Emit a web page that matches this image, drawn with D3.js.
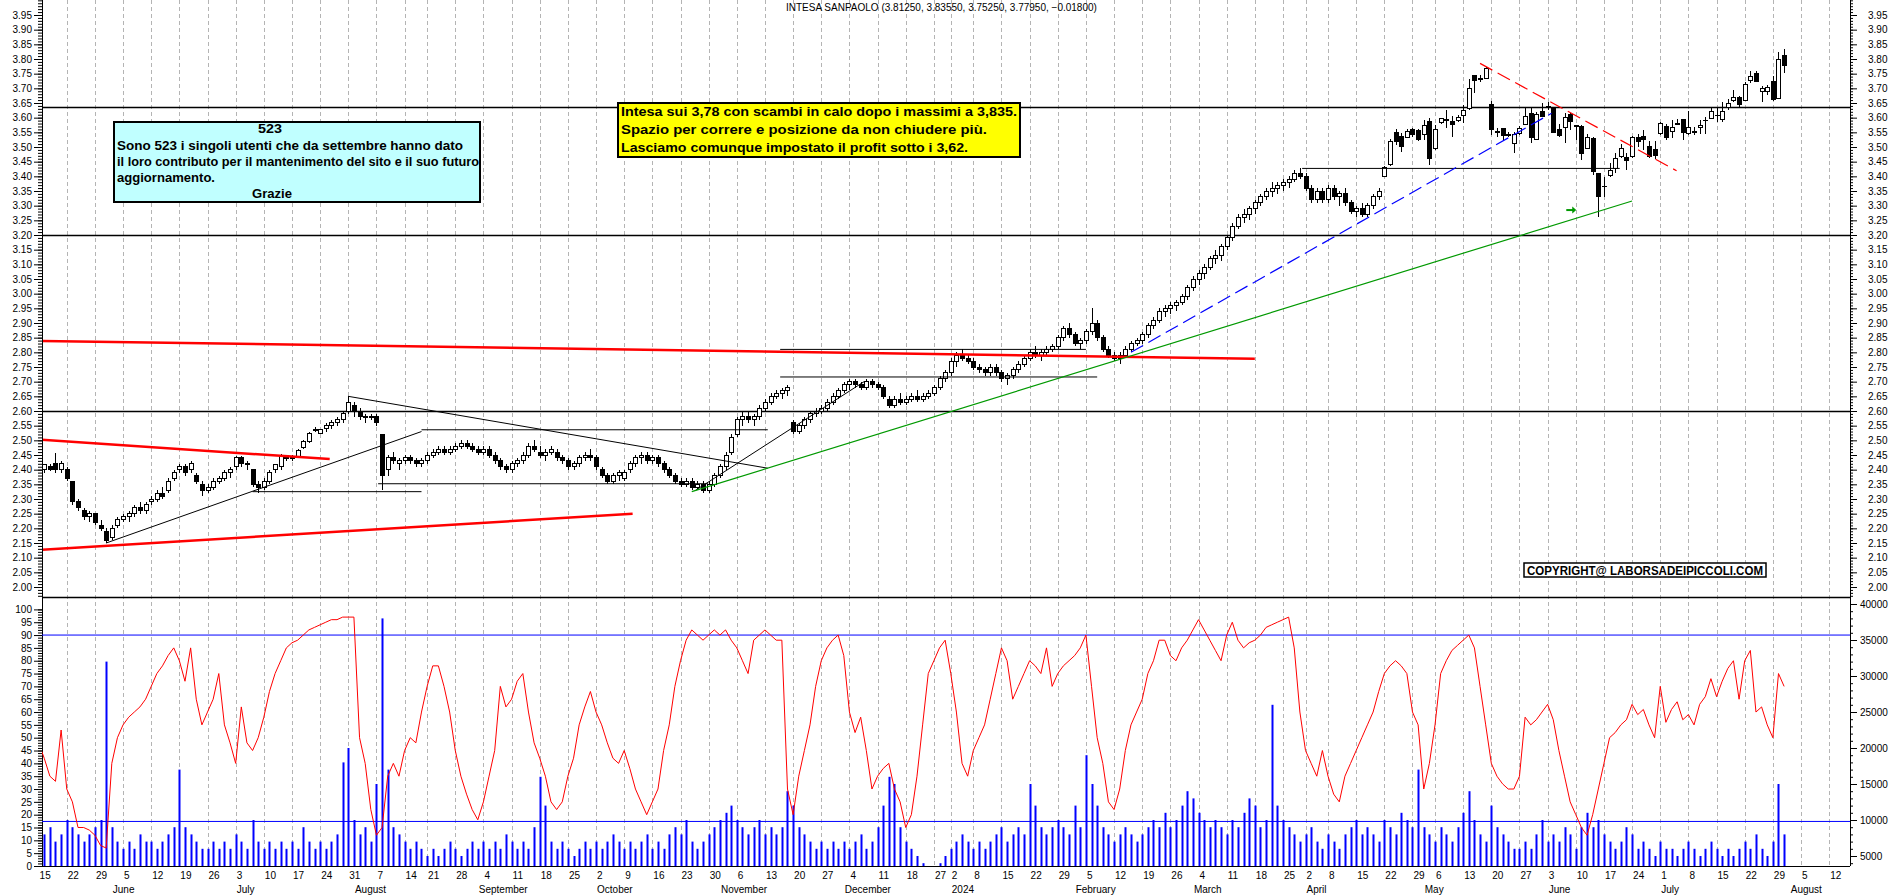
<!DOCTYPE html>
<html><head><meta charset="utf-8">
<script src="https://cdn.jsdelivr.net/npm/d3@7"></script>
<style>
html,body{margin:0;padding:0;background:#fff;overflow:hidden}
svg{display:block;font-family:"Liberation Sans",Arial,sans-serif}
</style></head><body>
<svg id="chart" width="1890" height="895"></svg>
<script>
// trading calendar (Borsa Italiana closures)
const startDay = "2023-05-15";
const holidays = ["2023-08-15","2023-12-25","2023-12-26","2024-01-01","2024-03-29","2024-04-01","2024-05-01"];
const monthNames = ["January","February","March","April","May","June","July","August","September","October","November","December"];

// daily candles [open, high, low, close], one per trading day from startDay
const ohlc = [
[2.41,2.43,2.39,2.40],[2.40,2.42,2.39,2.416],[2.41,2.42,2.395,2.40],[2.42,2.456,2.39,2.40],[2.40,2.43,2.39,2.42],
[2.40,2.41,2.36,2.37],[2.36,2.36,2.28,2.29],[2.29,2.30,2.26,2.27],[2.26,2.27,2.23,2.24],[2.24,2.26,2.22,2.25],
[2.25,2.25,2.21,2.22],[2.21,2.23,2.19,2.20],[2.19,2.20,2.15,2.16],[2.17,2.21,2.16,2.20],[2.21,2.24,2.20,2.23],
[2.23,2.25,2.22,2.24],[2.24,2.26,2.22,2.25],[2.25,2.28,2.24,2.27],[2.27,2.29,2.25,2.26],[2.26,2.29,2.25,2.28],
[2.29,2.31,2.28,2.30],[2.30,2.33,2.29,2.32],[2.32,2.34,2.30,2.31],[2.33,2.37,2.32,2.36],[2.37,2.40,2.36,2.39],
[2.40,2.42,2.39,2.41],[2.41,2.42,2.38,2.39],[2.40,2.43,2.39,2.42],[2.38,2.39,2.35,2.36],[2.35,2.36,2.31,2.33],
[2.33,2.35,2.32,2.34],[2.34,2.37,2.33,2.36],[2.36,2.38,2.35,2.37],[2.37,2.40,2.36,2.39],[2.39,2.41,2.37,2.40],
[2.41,2.445,2.40,2.44],[2.44,2.445,2.41,2.42],[2.42,2.43,2.40,2.416],[2.40,2.40,2.34,2.35],[2.35,2.36,2.32,2.34],
[2.34,2.37,2.33,2.36],[2.36,2.40,2.35,2.39],[2.40,2.42,2.39,2.417],[2.41,2.455,2.40,2.45],[2.44,2.45,2.43,2.44],
[2.44,2.45,2.43,2.441],[2.444,2.47,2.44,2.467],[2.476,2.50,2.47,2.495],[2.495,2.53,2.49,2.524],[2.535,2.545,2.53,2.537],
[2.524,2.54,2.52,2.537],[2.54,2.56,2.53,2.55],[2.55,2.57,2.54,2.56],[2.56,2.58,2.55,2.57],[2.57,2.60,2.56,2.59],
[2.60,2.65,2.59,2.63],[2.62,2.63,2.58,2.60],[2.60,2.61,2.57,2.58],[2.58,2.59,2.56,2.58],[2.58,2.59,2.57,2.58],
[2.58,2.59,2.55,2.56],[2.52,2.52,2.33,2.38],[2.40,2.45,2.38,2.44],[2.44,2.46,2.42,2.43],[2.42,2.44,2.40,2.43],
[2.43,2.45,2.42,2.44],[2.44,2.45,2.42,2.43],[2.43,2.44,2.41,2.42],[2.42,2.44,2.41,2.43],
[2.43,2.46,2.42,2.45],[2.45,2.47,2.44,2.46],[2.46,2.48,2.45,2.47],[2.47,2.48,2.45,2.46],[2.46,2.48,2.45,2.47],
[2.47,2.49,2.46,2.48],[2.48,2.50,2.47,2.49],[2.49,2.50,2.47,2.48],[2.48,2.49,2.46,2.47],[2.47,2.48,2.45,2.46],
[2.46,2.48,2.45,2.47],[2.47,2.48,2.44,2.45],[2.45,2.46,2.42,2.43],[2.43,2.44,2.40,2.41],[2.41,2.42,2.39,2.40],
[2.40,2.43,2.39,2.42],[2.42,2.44,2.41,2.43],[2.43,2.46,2.42,2.45],[2.45,2.49,2.44,2.48],[2.48,2.50,2.46,2.47],
[2.46,2.48,2.44,2.45],[2.45,2.47,2.43,2.46],[2.46,2.48,2.45,2.47],[2.46,2.47,2.43,2.44],[2.44,2.45,2.42,2.43],
[2.43,2.44,2.40,2.41],[2.41,2.43,2.40,2.42],[2.42,2.45,2.41,2.44],[2.44,2.46,2.43,2.45],[2.45,2.47,2.43,2.44],
[2.44,2.45,2.40,2.41],[2.40,2.41,2.37,2.38],[2.38,2.39,2.35,2.36],[2.36,2.39,2.35,2.38],[2.38,2.40,2.36,2.39],
[2.37,2.40,2.36,2.39],[2.40,2.43,2.39,2.42],[2.42,2.45,2.41,2.44],[2.44,2.46,2.42,2.45],[2.45,2.46,2.42,2.43],
[2.43,2.45,2.42,2.44],[2.44,2.45,2.41,2.42],[2.42,2.43,2.39,2.40],[2.40,2.41,2.37,2.38],[2.38,2.39,2.35,2.36],
[2.36,2.37,2.34,2.35],[2.35,2.37,2.34,2.36],[2.36,2.37,2.33,2.34],[2.34,2.36,2.33,2.35],[2.35,2.36,2.32,2.33],
[2.33,2.36,2.32,2.35],[2.35,2.39,2.34,2.38],[2.38,2.42,2.37,2.41],[2.41,2.46,2.40,2.45],[2.46,2.52,2.45,2.51],
[2.52,2.58,2.51,2.57],[2.57,2.60,2.55,2.58],[2.58,2.60,2.56,2.57],[2.57,2.59,2.55,2.58],[2.58,2.62,2.57,2.61],
[2.61,2.64,2.60,2.63],[2.63,2.66,2.62,2.65],[2.65,2.67,2.64,2.66],[2.66,2.68,2.64,2.67],[2.67,2.69,2.65,2.68],
[2.56,2.57,2.52,2.53],[2.53,2.56,2.52,2.55],[2.55,2.58,2.54,2.57],[2.57,2.60,2.56,2.59],[2.59,2.61,2.58,2.60],
[2.60,2.62,2.59,2.61],[2.61,2.64,2.60,2.63],[2.63,2.66,2.62,2.65],[2.65,2.68,2.64,2.67],[2.67,2.70,2.66,2.69],
[2.69,2.71,2.67,2.70],[2.70,2.71,2.68,2.69],[2.69,2.70,2.67,2.68],[2.68,2.71,2.67,2.70],[2.70,2.71,2.68,2.69],
[2.69,2.70,2.67,2.68],[2.68,2.69,2.64,2.65],[2.64,2.65,2.61,2.62],[2.62,2.65,2.61,2.64],[2.64,2.66,2.62,2.63],
[2.63,2.65,2.62,2.64],[2.64,2.66,2.63,2.65],[2.65,2.67,2.63,2.64],[2.64,2.66,2.63,2.65],[2.65,2.67,2.64,2.66],
[2.66,2.69,2.65,2.68],[2.68,2.72,2.67,2.71],[2.71,2.74,2.70,2.73],
[2.73,2.78,2.72,2.77],[2.77,2.80,2.75,2.79],[2.79,2.81,2.77,2.78],[2.78,2.79,2.76,2.77],
[2.77,2.78,2.74,2.75],[2.75,2.76,2.73,2.74],[2.74,2.75,2.72,2.73],[2.73,2.76,2.72,2.75],[2.75,2.76,2.72,2.73],
[2.73,2.74,2.70,2.71],[2.71,2.73,2.69,2.72],[2.72,2.75,2.71,2.74],[2.74,2.77,2.73,2.76],[2.76,2.79,2.75,2.78],
[2.78,2.81,2.77,2.80],[2.80,2.82,2.78,2.79],[2.79,2.81,2.77,2.80],[2.80,2.82,2.79,2.81],[2.81,2.83,2.80,2.82],
[2.82,2.86,2.81,2.85],[2.85,2.89,2.84,2.88],[2.88,2.90,2.85,2.86],[2.86,2.87,2.82,2.83],[2.83,2.85,2.81,2.84],
[2.84,2.88,2.83,2.87],[2.87,2.95,2.86,2.90],[2.90,2.91,2.84,2.85],[2.85,2.86,2.80,2.81],[2.81,2.82,2.78,2.79],
[2.79,2.80,2.77,2.78],[2.78,2.80,2.76,2.79],[2.79,2.82,2.78,2.81],[2.81,2.84,2.80,2.83],[2.83,2.85,2.82,2.84],
[2.84,2.87,2.83,2.86],[2.86,2.90,2.85,2.89],[2.89,2.92,2.88,2.91],[2.91,2.95,2.90,2.94],[2.94,2.96,2.92,2.95],
[2.95,2.97,2.93,2.96],[2.96,2.98,2.94,2.97],[2.97,3.00,2.96,2.99],[2.99,3.03,2.98,3.02],[3.02,3.06,3.01,3.05],
[3.05,3.08,3.03,3.07],[3.07,3.10,3.05,3.09],[3.09,3.13,3.08,3.12],[3.12,3.15,3.10,3.13],[3.13,3.17,3.11,3.16],
[3.16,3.20,3.15,3.19],[3.19,3.24,3.18,3.23],[3.23,3.27,3.22,3.26],[3.26,3.29,3.24,3.27],[3.27,3.30,3.25,3.29],
[3.29,3.32,3.27,3.31],[3.31,3.34,3.30,3.33],[3.33,3.36,3.32,3.35],[3.35,3.38,3.33,3.36],[3.36,3.38,3.34,3.37],
[3.37,3.39,3.35,3.38],[3.38,3.40,3.36,3.39],[3.39,3.42,3.38,3.41],[3.41,3.43,3.39,3.40],
[3.40,3.41,3.35,3.36],[3.36,3.37,3.31,3.32],[3.32,3.36,3.31,3.35],[3.35,3.36,3.31,3.32],
[3.32,3.37,3.31,3.36],[3.36,3.37,3.32,3.33],[3.33,3.35,3.30,3.34],[3.34,3.36,3.30,3.31],[3.31,3.32,3.27,3.28],
[3.28,3.30,3.26,3.29],[3.29,3.31,3.26,3.27],[3.27,3.31,3.26,3.30],[3.30,3.34,3.29,3.33],[3.33,3.36,3.32,3.35],
[3.401,3.436,3.399,3.431],[3.439,3.527,3.436,3.518],[3.550,3.560,3.506,3.518],[3.535,3.547,3.482,3.501],[3.533,3.560,3.533,3.552],
[3.560,3.564,3.535,3.541],[3.555,3.560,3.520,3.526],[3.544,3.592,3.524,3.574],[3.586,3.598,3.439,3.461],
[3.495,3.575,3.490,3.561],[3.583,3.600,3.580,3.598],[3.592,3.626,3.564,3.594],[3.587,3.606,3.535,3.578],[3.590,3.610,3.585,3.601],
[3.606,3.643,3.581,3.626],[3.632,3.731,3.626,3.700],[3.745,3.745,3.685,3.726],[3.734,3.745,3.723,3.733],[3.734,3.774,3.734,3.768],
[3.645,3.658,3.541,3.558],[3.552,3.564,3.535,3.552],[3.564,3.566,3.524,3.539],[3.543,3.550,3.535,3.543],[3.512,3.550,3.481,3.541],
[3.547,3.570,3.540,3.564],[3.578,3.635,3.575,3.603],[3.615,3.637,3.512,3.533],[3.526,3.620,3.526,3.612],[3.620,3.649,3.603,3.605],
[3.637,3.652,3.626,3.637],[3.635,3.637,3.547,3.549],[3.560,3.578,3.535,3.540],[3.567,3.615,3.512,3.601],[3.611,3.615,3.558,3.586],
[3.575,3.575,3.524,3.569],[3.571,3.575,3.455,3.478],[3.495,3.546,3.492,3.532],[3.529,3.535,3.405,3.416],[3.408,3.410,3.262,3.331],
[3.367,3.399,3.331,3.367],[3.404,3.446,3.399,3.421],[3.427,3.478,3.410,3.461],[3.467,3.510,3.461,3.495],[3.465,3.478,3.420,3.454],
[3.467,3.537,3.461,3.532],[3.532,3.546,3.501,3.518],[3.537,3.558,3.490,3.524],[3.503,3.521,3.461,3.467],[3.490,3.521,3.458,3.470],
[3.546,3.585,3.540,3.580],[3.571,3.578,3.524,3.533],[3.552,3.592,3.530,3.566],[3.580,3.594,3.578,3.580],[3.594,3.596,3.524,3.549],
[3.546,3.623,3.541,3.567],[3.552,3.569,3.541,3.552],[3.567,3.592,3.546,3.575],[3.592,3.603,3.546,3.592],[3.598,3.632,3.594,3.622],
[3.609,3.637,3.586,3.609],[3.594,3.655,3.586,3.622],[3.635,3.662,3.626,3.649],[3.660,3.694,3.654,3.668],[3.668,3.674,3.637,3.645],
[3.660,3.720,3.658,3.714],[3.726,3.760,3.717,3.742],[3.749,3.760,3.720,3.723],[3.689,3.708,3.655,3.700],[3.689,3.711,3.677,3.703],
[3.725,3.742,3.658,3.663],[3.666,3.825,3.662,3.7975],[3.8125,3.8355,3.7525,3.7795]
];

// oscillator (left scale 0-100), one per trading day
const osc = [
48,42,35,33,53,30,25,15,15,14, 12,8,7,40,50,55,58,60,62,65, 70,75,78,82,85,80,72,85,65,55,
60,65,75,55,48,40,62,48,45,50, 58,68,75,80,85,87,88,90,92,93, 94,95,96,96,97,97,97,50,40,22,
12,15,35,40,35,45,50,48,60,70, 78,78,70,60,45,35,28,22,18,25, 35,45,70,62,65,72,75,60,48,42,
35,25,22,25,35,42,55,62,68,60, 55,48,42,40,45,38,30,25,20,25, 30,45,55,70,80,88,92,90,88,90,
92,90,92,88,85,80,75,88,90,92, 90,88,88,30,20,35,45,55,70,80, 85,88,90,82,60,52,58,45,30,35,
38,40,30,25,15,20,35,55,75,80, 85,88,75,60,40,35,45,50,55,65, 75,85,80,65,70,75,80,78,75,85,
70,75,78,80,82,85,90,70,50,40, 25,22,30,45,55,60,65,75,80,88, 88,82,80,85,88,92,96,92,88,84,
80,90,95,88,85,87,88,90,93,94, 95,96,97,85,60,45,40,35,45,35, 28,25,35,40,45,50,55,60,68,75,
78,80,78,75,60,55,30,40,55,75, 80,84,86,88,90,85,70,55,40,35, 32,30,30,35,58,55,57,60,63,57,
45,35,25,20,15,12,20,30,40,50, 52,55,57,63,59,61,55,50,70,56, 61,64,57,59,55,63,66,73,66,72,
77,80,65,80,84,60,62,55,50,75,70
];

// volume (right scale, thousands), one per trading day
const vol = [
9,8,9,7,8,10,9,8,7,8, 9,10,32,9,7,6,7,6,8,7, 7,6,7,8,9,17,9,8,7,6, 6,7,6,7,6,8,7,6,10,7,
6,7,6,7,6,7,6,9,7,6, 7,6,7,8,18,20,10,8,9,7, 15,38,17,9,8,7,6,7,6,5, 6,5,6,7,6,5,6,7,6,7,
6,7,6,8,7,6,7,6,9,16, 12,7,6,7,6,5,6,7,6,7, 6,7,8,7,6,7,6,7,8,6, 7,6,8,9,8,10,7,6,7,8,
9,10,11,12,10,9,8,9,10,8, 9,8,9,14,12,9,8,7,6,7, 6,7,6,7,6,7,8,6,7,9, 12,16,15,9,7,6,5,4,3,3,
4,5,6,7,8,7,6,7,6,7, 8,9,7,8,9,8,15,12,9,8, 9,10,9,8,12,9,19,15,12,9, 8,7,8,9,8,7,8,9,10,9,
11,9,10,12,14,13,11,10,9,10, 9,8,10,9,11,13,12,9,10,26, 12,10,9,8,7,8,9,7,6,8, 7,6,8,9,10,8,9,8,7,10,
9,8,11,10,9,17,9,8,7,9, 8,7,9,11,14,10,8,7,12,9, 8,7,6,6,7,6,8,10,7,8, 7,9,8,6,9,11,9,10,8,7,
6,7,9,8,6,7,6,5,7,6, 6,5,6,7,6,5,6,7,6,5, 6,5,6,7,6,8,6,5,7,15, 8
];

// drawn trendlines: [day index, price, day index, price, kind]
const trendLines = [
  [0,2.839,216,2.778,"redThick"],
  [0,2.503,51.7,2.436,"redThick"],
  [0,2.126,105.5,2.25,"redThick"],
  [12,2.15,68,2.53,"black"],
  [38,2.325,68,2.325,"black"],
  [68,2.536,129.5,2.536,"black"],
  [60.3,2.352,118.9,2.352,"black"],
  [55,2.65,129.5,2.405,"black"],
  [116.7,2.33,146.6,2.70,"black"],
  [131.7,2.81,186,2.81,"black"],
  [131.7,2.716,188,2.716,"black"],
  [224.4,3.427,280.8,3.427,"black"],
  [116,2.325,283,3.316,"green"],
  [194,2.80,268.7,3.615,"blueDash"],
  [256,3.785,290.9,3.419,"redDash"]
];
const levelLines = [3.635, 3.20, 2.60];
const oscLevel = 90, volLevel = 9.8;
const arrowAt = [272.2, 3.285];

const lineStyle = {
  redThick: {stroke:"#ff0000", width:2.5, dash:null},
  black: {stroke:"#000", width:1, dash:null},
  green: {stroke:"#009900", width:1.2, dash:null},
  blueDash: {stroke:"#0000ff", width:1.2, dash:"14,6"},
  redDash: {stroke:"#ff0000", width:1.2, dash:"14,6"}
};

// ---------- layout ----------
const L = 42, R = 1850, TOP = 0, MID = 597, BOT = 866;
const svg = d3.select("#chart");
const fmtKey = d3.timeFormat("%Y-%m-%d");

const days = [];
for (let d = new Date(startDay + "T12:00:00"); days.length < 325; d.setDate(d.getDate() + 1)) {
  const w = d.getDay();
  if (w > 0 && w < 6 && !holidays.includes(fmtKey(d))) days.push(new Date(d));
}

const x = d3.scaleLinear().domain([0, 321.7]).range([38.6, R]);
const y = d3.scaleLinear().domain([2.0, 3.2]).range([587, 235]);
const yo = d3.scaleLinear().domain([0, 100]).range([BOT, 609.4]);
const yv = d3.scaleLinear().domain([0, 40]).range([892, 604]);

const defs = svg.append("defs");
defs.append("clipPath").attr("id", "cTop").append("rect").attr("x", L).attr("y", TOP).attr("width", R - L).attr("height", MID - TOP);
defs.append("clipPath").attr("id", "cBot").append("rect").attr("x", L).attr("y", MID).attr("width", R - L).attr("height", BOT - MID);

// weekly grid
const weekStarts = d3.range(1, days.length).filter(i => d3.timeMonday.floor(days[i]) - d3.timeMonday.floor(days[i - 1]) !== 0);
weekStarts.unshift(0);
const gx = weekStarts.filter(i => x(i) > L + 1 && x(i) < R - 1);
svg.append("g").selectAll("line").data(gx).join("line")
  .attr("x1", i => Math.round(x(i)) + 0.5).attr("x2", i => Math.round(x(i)) + 0.5)
  .attr("y1", TOP).attr("y2", BOT)
  .attr("stroke", "#b4b4b4").attr("stroke-dasharray", "4,3");

// x labels
const xl = svg.append("g").attr("font-size", 10).attr("fill", "#000");
xl.selectAll("text.d").data(weekStarts.filter(i => x(i) > 30 && x(i) < R)).join("text").attr("class", "d")
  .attr("x", i => x(i) + 1).attr("y", 879).text(i => days[i].getDate());
const monthStarts = d3.range(1, days.length).filter(i => days[i].getMonth() !== days[i - 1].getMonth() && x(i) < R);
xl.selectAll("text.m").data(monthStarts).join("text").attr("class", "m")
  .attr("x", i => x(i) + 1).attr("y", 893)
  .text(i => days[i].getMonth() === 0 ? days[i].getFullYear() : monthNames[days[i].getMonth()]);

// level lines (full width)
svg.append("g").selectAll("line").data(levelLines).join("line")
  .attr("x1", L).attr("x2", R).attr("y1", p => Math.round(y(p)) + 0.5).attr("y2", p => Math.round(y(p)) + 0.5)
  .attr("stroke", "#000").attr("stroke-width", 1.3);

// candles
const cg = svg.append("g").attr("clip-path", "url(#cTop)").attr("shape-rendering", "crispEdges");
const cand = cg.selectAll("g").data(ohlc.map((v, i) => ({i, o: v[0], h: v[1], l: v[2], c: v[3]}))).join("g");
cand.append("line").attr("x1", d => Math.round(x(d.i)) + 0.5).attr("x2", d => Math.round(x(d.i)) + 0.5)
  .attr("y1", d => y(d.h)).attr("y2", d => y(d.l)).attr("stroke", "#000");
cand.append("rect")
  .attr("x", d => Math.round(x(d.i)) - 1.5).attr("width", 4)
  .attr("y", d => y(Math.max(d.o, d.c)))
  .attr("height", d => Math.max(0.8, Math.abs(y(d.o) - y(d.c))))
  .attr("fill", d => d.c >= d.o ? "#fff" : "#000").attr("stroke", "#000");

// trendlines
const tg = svg.append("g").attr("clip-path", "url(#cTop)");
tg.selectAll("line").data(trendLines).join("line")
  .attr("x1", d => x(d[0])).attr("y1", d => y(d[1])).attr("x2", d => x(d[2])).attr("y2", d => y(d[3]))
  .attr("stroke", d => lineStyle[d[4]].stroke).attr("stroke-width", d => lineStyle[d[4]].width)
  .attr("stroke-dasharray", d => lineStyle[d[4]].dash);

// green arrow
const ax = x(arrowAt[0]), ay = y(arrowAt[1]);
svg.append("path").attr("d", `M${ax - 5},${ay}L${ax + 2},${ay}`).attr("stroke", "#009900").attr("stroke-width", 2);
svg.append("path").attr("d", `M${ax + 1},${ay - 3.5}L${ax + 5},${ay}L${ax + 1},${ay + 3.5}Z`).attr("fill", "#009900");

// panel frame
svg.append("line").attr("x1", L).attr("x2", R).attr("y1", MID + 0.5).attr("y2", MID + 0.5).attr("stroke", "#000").attr("stroke-width", 1.3);
svg.append("line").attr("x1", L).attr("x2", R).attr("y1", BOT + 0.5).attr("y2", BOT + 0.5).attr("stroke", "#000");
svg.append("line").attr("x1", L + 0.5).attr("x2", L + 0.5).attr("y1", TOP).attr("y2", BOT).attr("stroke", "#000");
svg.append("line").attr("x1", R + 0.5).attr("x2", R + 0.5).attr("y1", TOP).attr("y2", BOT).attr("stroke", "#000");

// price axes
const majorP = d3.range(200, 400, 5).map(v => v / 100);
const minorP = d3.range(197, 401).map(v => v / 100);
function styleAxis(g) { g.select(".domain").remove(); g.selectAll("text").attr("font-size", 10).attr("fill", "#000").attr("font-family", "Liberation Sans, Arial, sans-serif"); g.selectAll("line").attr("stroke", "#000"); }
svg.append("g").attr("transform", `translate(${R},0)`).call(d3.axisRight(y).tickValues(minorP).tickSize(3).tickFormat("")).call(styleAxis);
svg.append("g").attr("transform", `translate(${R},0)`).call(d3.axisRight(y).tickValues(majorP).tickSize(7).tickPadding(11).tickFormat(d3.format(".2f"))).call(styleAxis);
svg.append("g").attr("transform", `translate(${L},0)`).call(d3.axisLeft(y).tickValues(minorP).tickSize(4).tickFormat("")).call(styleAxis);
svg.append("g").attr("transform", `translate(${L},0)`).call(d3.axisLeft(y).tickValues(majorP).tickSize(8).tickPadding(2).tickFormat(d3.format(".2f"))).call(styleAxis);

// lower panel
const lg = svg.append("g").attr("clip-path", "url(#cBot)");
lg.selectAll("rect").data(vol).join("rect")
  .attr("x", (v, i) => Math.round(x(i)) - 0.5).attr("width", 2)
  .attr("y", v => yv(v)).attr("height", v => Math.max(0, BOT - yv(v)))
  .attr("fill", "#0000ff");
lg.append("line").attr("x1", L).attr("x2", R).attr("y1", yo(oscLevel)).attr("y2", yo(oscLevel)).attr("stroke", "#0000ff");
lg.append("line").attr("x1", L).attr("x2", R).attr("y1", yv(volLevel)).attr("y2", yv(volLevel)).attr("stroke", "#0000ff");
lg.append("path").datum(osc).attr("fill", "none").attr("stroke", "#ff0000").attr("stroke-width", 1)
  .attr("d", d3.line().x((v, i) => x(i)).y(v => yo(v)));

svg.append("g").attr("transform", `translate(${L},0)`).call(d3.axisLeft(yo).tickValues(d3.range(0, 101)).tickSize(4).tickFormat("")).call(styleAxis);
svg.append("g").attr("transform", `translate(${L},0)`).call(d3.axisLeft(yo).tickValues(d3.range(0, 101, 5)).tickSize(8).tickPadding(2)).call(styleAxis);
svg.append("g").attr("transform", `translate(${R},0)`).call(d3.axisRight(yv).tickValues(d3.range(4, 41)).tickSize(3).tickFormat("")).call(styleAxis);
svg.append("g").attr("transform", `translate(${R},0)`).call(d3.axisRight(yv).tickValues(d3.range(5, 41, 5)).tickSize(7).tickPadding(3).tickFormat(v => v * 1000)).call(styleAxis);

// title
const last = ohlc[ohlc.length - 1], prev = ohlc[ohlc.length - 2];
const f5 = d3.format(".5f");
svg.append("text").attr("x", 786).attr("y", 11).attr("font-size", 10)
  .text(`INTESA SANPAOLO (${f5(last[0])}, ${f5(last[1])}, ${f5(last[2])}, ${f5(last[3])}, ${f5(last[3] - prev[3])})`);

// note boxes
function box(bx, by, bw, bh, fill, sw) {
  svg.append("rect").attr("x", bx).attr("y", by).attr("width", bw).attr("height", bh)
    .attr("fill", fill).attr("stroke", "#000").attr("stroke-width", sw);
}
function txt(tx, ty, s, size, len, anchor) {
  const t = svg.append("text").attr("x", tx).attr("y", ty).attr("font-size", size).attr("font-weight", "bold")
    .attr("text-anchor", anchor || "start").text(s);
  if (len) t.attr("textLength", len).attr("lengthAdjust", "spacingAndGlyphs");
}
box(114, 122, 366, 80, "#c0ffff", 2);
txt(270, 133, "523", 13, 24, "middle");
txt(117, 150, "Sono 523 i singoli utenti che da settembre hanno dato", 13, 346);
txt(117, 166, "il loro contributo per il mantenimento del sito e il suo futuro", 13, 362);
txt(117, 182, "aggiornamento.", 13, 98);
txt(272, 198, "Grazie", 13, 40, "middle");

box(618, 103, 402, 54, "#ffff00", 2);
txt(621, 116, "Intesa sui 3,78 con scambi in calo dopo i massimi a 3,835.", 13.5, 396);
txt(621, 134, "Spazio per correre e posizione da non chiudere più.", 13.5, 366);
txt(621, 152, "Lasciamo comunque impostato il profit sotto i 3,62.", 13.5, 347);

box(1524, 563, 242, 14, "#fff", 1.5);
txt(1527, 575, "COPYRIGHT@ LABORSADEIPICCOLI.COM", 12, 236);
</script></body></html>
